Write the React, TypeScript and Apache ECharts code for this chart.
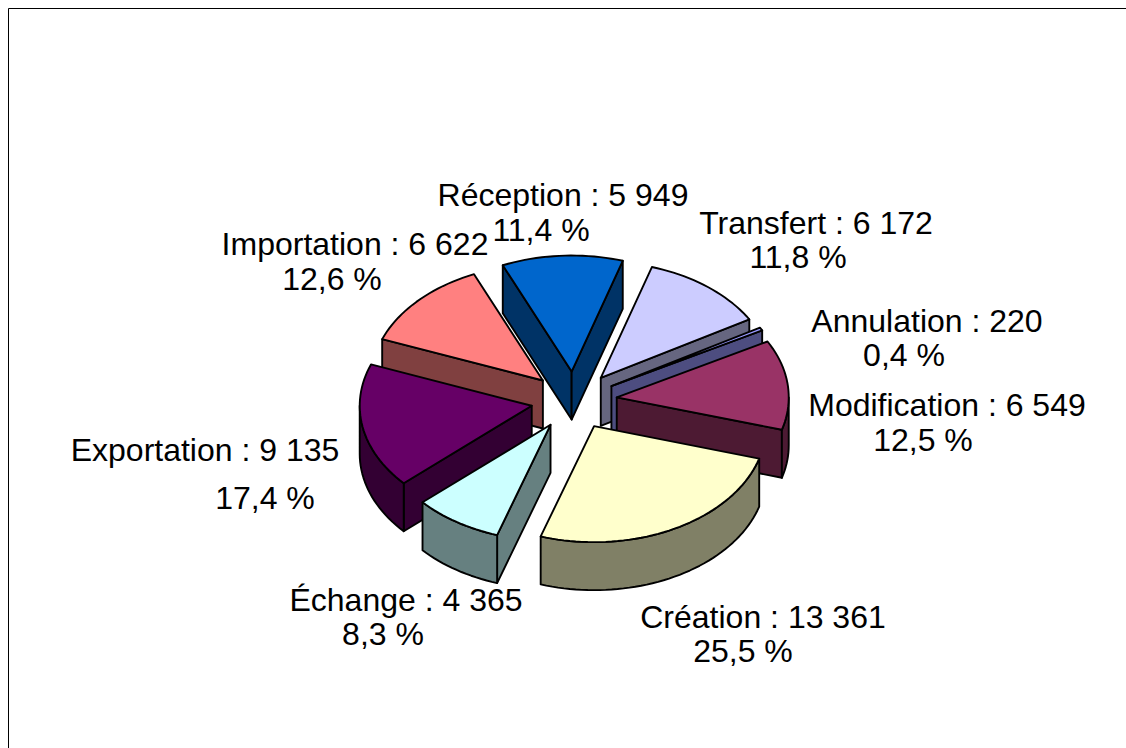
import React, { useEffect, useRef } from "react";
import * as echarts from "echarts";

const categories = ["Réception", "Transfert", "Annulation", "Modification", "Création", "Échange", "Exportation", "Importation"];
const values = [5949, 6172, 220, 6549, 13361, 4365, 9135, 6622];
const topColors = ["#0066CC", "#CCCCFF", "#9999FF", "#993366", "#FFFFCC", "#CCFFFF", "#660066", "#FF8080"];
const sideColors = ["#003366", "#666680", "#4D4D80", "#4D1A33", "#808066", "#668080", "#330033", "#804040"];

// label anchors: [line 1 centre x, line 1 centre y, line 2 centre x, line 2 centre y]
const labelAnchors = [
  [563, 195, 541, 230],
  [816, 223, 798, 257],
  [927, 321, 904, 355],
  [947, 405, 923, 440],
  [763, 617, 743, 651],
  [406, 600, 383, 634],
  [205, 450, 265, 498],
  [355, 244, 332, 279],
];

const CX = 574;
const CY = 400.5;
const RX = 172;
const RY = 116;
const DEPTH = 48;
const EXPLODE = 0.25;
const START_DEG = -113.6;
const FONT_SIZE = 32;
const LINE = 1.9;

const total = values.reduce((a, b) => a + b, 0);
const fmt = (v: number) => String(v).replace(/\B(?=(\d{3})+$)/g, " ");
const pct = (v: number) => ((v / total) * 100).toFixed(1).replace(".", ",") + " %";

const spans = (() => {
  let a = START_DEG;
  return values.map((v) => {
    const s = a;
    a += (v / total) * 360;
    return [s, a];
  });
})();

const rad = (d: number) => (d * Math.PI) / 180;
const midOf = (i: number) => (spans[i][0] + spans[i][1]) / 2;
const drawOrder = values.map((_, i) => i).sort((a, b) => Math.sin(rad(midOf(a))) - Math.sin(rad(midOf(b))));

function renderSlice(_params: any, api: any) {
  const i = api.value(0);
  const [a0, a1] = spans[i];
  const mid = rad(midOf(i));
  const ox = CX + EXPLODE * RX * Math.cos(mid);
  const oy = CY + EXPLODE * RY * Math.sin(mid);
  const pt = (d: number): number[] => [ox + RX * Math.cos(rad(d)), oy + RY * Math.sin(rad(d))];
  const down = (p: number[]): number[] => [p[0], p[1] + DEPTH];
  const arc = (from: number, to: number) => {
    const out: number[][] = [];
    const n = Math.max(1, Math.ceil((to - from) / 2));
    for (let k = 0; k <= n; k++) out.push(pt(from + ((to - from) * k) / n));
    return out;
  };
  const apex = [ox, oy];
  const side = { fill: sideColors[i], stroke: "#000", lineWidth: LINE, lineJoin: "round" };
  const top = { fill: topColors[i], stroke: "#000", lineWidth: LINE, lineJoin: "round" };
  const order = drawOrder.indexOf(i) * 10;
  const children: any[] = [];
  // a cut face shows only when it turns towards the viewer
  const faces: number[] = [];
  if (Math.cos(rad(a0)) < 0) faces.push(a0);
  if (Math.cos(rad(a1)) > 0) faces.push(a1);
  faces.forEach((d) => {
    const p = pt(d);
    children.push({
      type: "polygon",
      z2: order + 1,
      shape: { points: [apex, p, down(p), down(apex)] },
      style: side,
    });
  });
  // visible part of the rim: the front half of the ellipse
  const ranges: number[][] = [];
  for (const k of [-360, 0, 360]) {
    const f = Math.max(a0, k);
    const t = Math.min(a1, k + 180);
    if (t > f) ranges.push([f, t]);
  }
  ranges.forEach(([f, t]) => {
    const rim = arc(f, t);
    children.push({
      type: "polygon",
      z2: order + 2,
      shape: { points: [...rim, ...rim.slice().reverse().map(down)] },
      style: side,
    });
  });
  children.push({
    type: "polygon",
    z2: order + 3,
    shape: { points: [apex, ...arc(a0, a1)] },
    style: top,
  });
  return { type: "group", children };
}

const labelElements = categories.flatMap((name, i) => {
  const [x1, y1, x2, y2] = labelAnchors[i];
  const base = {
    fontFamily: "Liberation Sans",
    fontSize: FONT_SIZE,
    fill: "#000",
    align: "center",
    verticalAlign: "middle",
  };
  return [
    { type: "text", x: x1, y: y1, z: 10, style: { ...base, text: `${name} : ${fmt(values[i])}` } },
    { type: "text", x: x2, y: y2, z: 10, style: { ...base, text: pct(values[i]) } },
  ];
});

export default function App() {
  const ref = useRef<HTMLDivElement>(null);
  useEffect(() => {
    const chart = echarts.init(ref.current!, undefined, { renderer: "svg" });
    chart.setOption({
      animation: false,
      backgroundColor: "#fff",
      graphic: [
        { type: "line", shape: { x1: 8.5, y1: 8.5, x2: 1126, y2: 8.5 }, style: { stroke: "#000", lineWidth: 1 } },
        { type: "line", shape: { x1: 8.5, y1: 8.5, x2: 8.5, y2: 748 }, style: { stroke: "#000", lineWidth: 1 } },
        ...labelElements,
      ],
      series: [
        {
          type: "custom",
          coordinateSystem: "none",
          renderItem: renderSlice,
          data: drawOrder.map((i) => [i]),
          silent: true,
        },
      ],
    });
    return () => chart.dispose();
  }, []);
  return <div ref={ref} style={{ position: "fixed", left: 0, top: 0, width: 1126, height: 748 }} />;
}
